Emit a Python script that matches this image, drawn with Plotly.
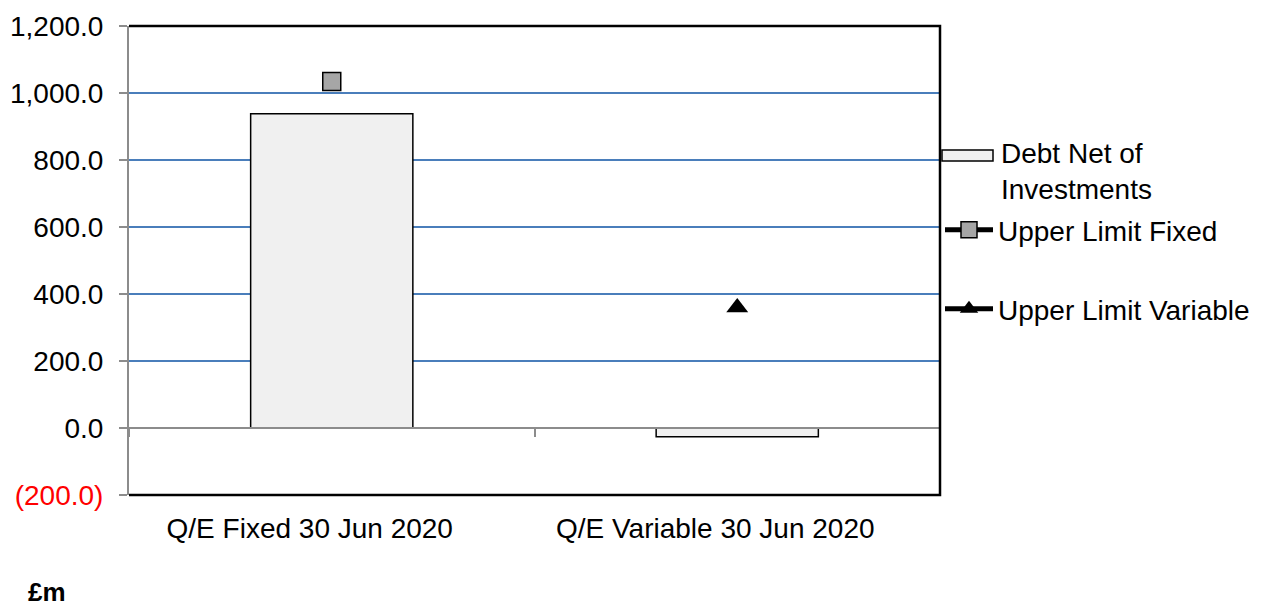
import plotly.graph_objects as go

# Quarter-end categories
categories = ["Q/E Fixed 30 Jun 2020", "Q/E Variable 30 Jun 2020"]

# Series values (£m)
debt_net_of_investments = [938, -26]
upper_limit_fixed = [1034, None]
upper_limit_variable = [None, 360]

# Y axis ticks
y_tickvals = [-200, 0, 200, 400, 600, 800, 1000, 1200]
y_ticktext = ['<span style="color:#FF0000">(200.0)</span>', "0.0", "200.0", "400.0",
              "600.0", "800.0", "1,000.0", "1,200.0"]

FONT = "Liberation Sans, Arial, sans-serif"
GRID_BLUE = "#4A7EBB"
AXIS_GREY = "#8C8C8C"

fig = go.Figure()

fig.add_trace(go.Bar(
    x=categories, y=debt_net_of_investments, name="Debt Net of Investments",
    width=0.4, marker=dict(color="#F0F0F0", line=dict(color="#000000", width=1.5)),
    showlegend=False,
))

fig.add_trace(go.Scatter(
    x=categories, y=upper_limit_fixed, name="Upper Limit Fixed",
    mode="lines+markers", line=dict(color="#000000", width=5),
    marker=dict(symbol="square", size=18, color="#A6A6A6",
                line=dict(color="#000000", width=1.5)),
    legend="legend",
))

fig.add_trace(go.Scatter(
    x=categories, y=upper_limit_variable, name="Upper Limit Variable",
    mode="lines+markers", line=dict(color="#000000", width=5),
    marker=dict(symbol="triangle-up", size=19, color="#000000"),
    legend="legend2",
))

# Helper trace that carries the zero-line axis with boundary ticks
fig.add_trace(go.Scatter(
    x=categories, y=[0, 0], xaxis="x2", mode="markers",
    marker=dict(opacity=0), showlegend=False, hoverinfo="skip",
))

legend_common = dict(
    xanchor="left", yanchor="middle", bgcolor="rgba(0,0,0,0)",
    font=dict(family=FONT, size=28, color="#000000"), itemwidth=48,
    borderwidth=0,
)

fig.update_layout(
    width=1268, height=608,
    margin=dict(l=129, r=328, t=26, b=113, autoexpand=False),
    paper_bgcolor="#FFFFFF", plot_bgcolor="#FFFFFF",
    font=dict(family=FONT, size=28, color="#000000"),
    bargap=0.6,
    xaxis=dict(
        type="category", categoryorder="array", categoryarray=categories,
        range=[-0.5, 1.5], showgrid=False, zeroline=False, showline=False,
        ticks="", tickfont=dict(family=FONT, size=28, color="#000000"),
        ticklabelstandoff=14, ticklabelshift=-22, automargin=False,
    ),
    xaxis2=dict(
        type="category", categoryorder="array", categoryarray=categories,
        range=[-0.5, 1.5], overlaying="x", anchor="free",
        position=200 / 1400, side="bottom",
        showgrid=False, zeroline=False, showline=True, linecolor=AXIS_GREY,
        linewidth=2, ticks="outside", tickson="boundaries", ticklen=8,
        tickcolor=AXIS_GREY, tickwidth=2, showticklabels=False,
        automargin=False,
    ),
    yaxis=dict(
        range=[-200, 1200], tickvals=y_tickvals, ticktext=y_ticktext,
        showgrid=True, gridcolor=GRID_BLUE, gridwidth=1.5, zeroline=False,
        showline=True, linecolor=AXIS_GREY, linewidth=2,
        ticks="outside", ticklen=8, tickcolor=AXIS_GREY, tickwidth=2,
        tickfont=dict(family=FONT, size=28, color="#000000"),
        ticklabelstandoff=10, automargin=False,
    ),
    legend=dict(x=1.0, y=(495 - 230) / 469, **legend_common),
    legend2=dict(x=1.0, y=(495 - 309) / 469, **legend_common),
    shapes=[
        # plot-area frame on top, right and bottom
        dict(type="path", xref="paper", yref="paper",
             path="M 0,1 L 1,1 L 1,0 L 0,0",
             line=dict(color="#000000", width=2.5), layer="above"),
        # swatch for the bar series
        dict(type="rect", xref="paper", yref="paper",
             x0=(942 - 129) / 811, x1=(993 - 129) / 811,
             y0=(495 - 161) / 469, y1=(495 - 150) / 469,
             fillcolor="#F0F0F0", line=dict(color="#000000", width=1.5)),
    ],
    annotations=[
        dict(text="Debt Net of<br>Investments", xref="paper", yref="paper",
             x=(999 - 129) / 811, y=(495 - 136) / 469, xanchor="left",
             yanchor="top", align="left", showarrow=False,
             font=dict(family=FONT, size=28, color="#000000")),
        dict(text="<b>£m</b>", xref="paper", yref="paper",
             x=(27 - 129) / 811, y=(495 - 608) / 469, xanchor="left",
             yanchor="bottom", showarrow=False, borderpad=0,
             font=dict(family=FONT, size=26, color="#000000")),
    ],
)

fig.write_html("out.html")
